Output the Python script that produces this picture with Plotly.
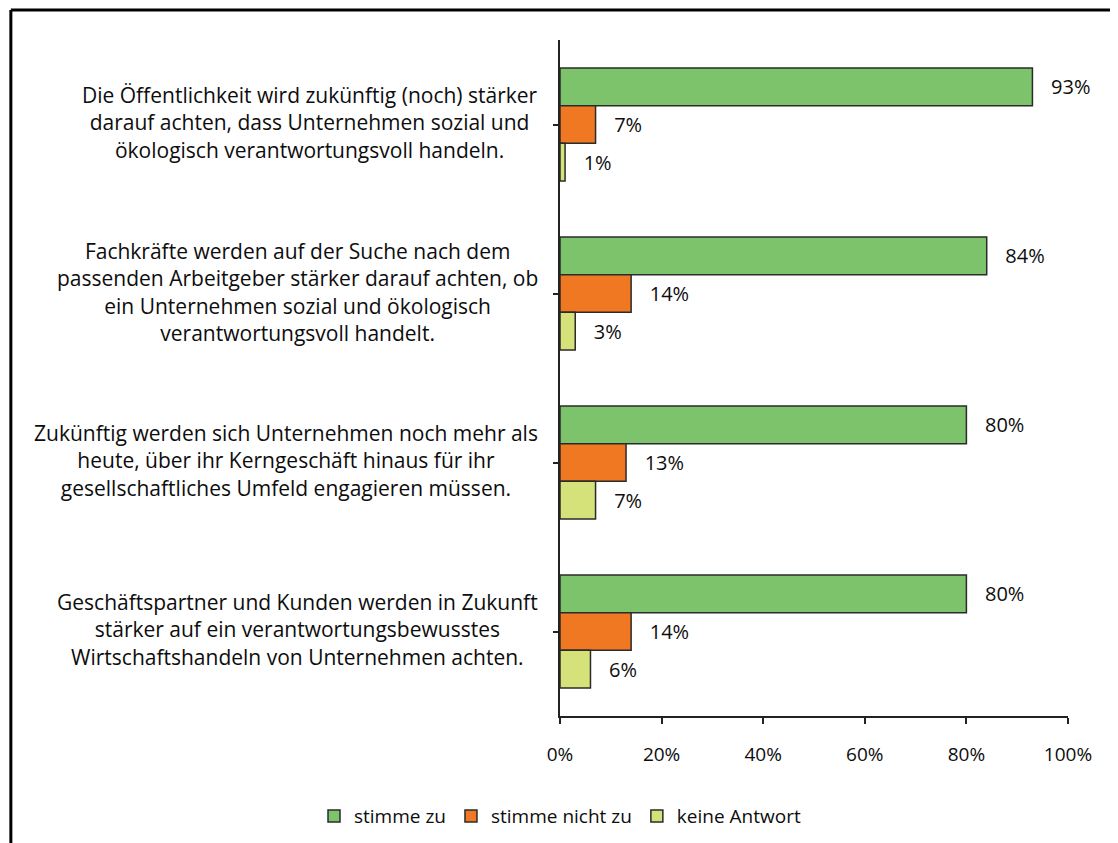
import plotly.graph_objects as go

categories = [
    "Die Öffentlichkeit wird zukünftig (noch) stärker<br>darauf achten, dass Unternehmen sozial und<br>ökologisch verantwortungsvoll handeln.",
    "Fachkräfte werden auf der Suche nach dem<br>passenden Arbeitgeber stärker darauf achten, ob<br>ein Unternehmen sozial und ökologisch<br>verantwortungsvoll handelt.",
    "Zukünftig werden sich Unternehmen noch mehr als<br>heute, über ihr Kerngeschäft hinaus für ihr<br>gesellschaftliches Umfeld engagieren müssen.",
    "Geschäftspartner und Kunden werden in Zukunft<br>stärker auf ein verantwortungsbewusstes<br>Wirtschaftshandeln von Unternehmen achten.",
]
series_names = ["stimme zu", "stimme nicht zu", "keine Antwort"]
stimme_zu = [93, 84, 80, 80]
stimme_nicht_zu = [7, 14, 13, 14]
keine_antwort = [1, 3, 7, 6]
x_ticks = [0, 20, 40, 60, 80, 100]
x_tick_labels = ["0%", "20%", "40%", "60%", "80%", "100%"]

colors = ["#7dc36b", "#f07823", "#d5e27a"]
FONT = "Open Sans"
TXT = "#0d0d0d"

fig = go.Figure()
for name, vals, col in zip(series_names, [stimme_zu, stimme_nicht_zu, keine_antwort], colors):
    fig.add_trace(go.Bar(
        y=categories, x=vals, name=name, orientation="h",
        marker=dict(color=col, line=dict(color="#2b2b2b", width=1.5)),
        text=["   " + str(v) + "%" for v in vals], texttemplate="%{text}",
        textposition="outside",
        textfont=dict(size=20, color=TXT, family=FONT),
        cliponaxis=False,
    ))

# category labels: text block right-anchored near the axis, lines centred within block
for cat in categories:
    fig.add_annotation(
        x=-0.04, xref="paper", y=cat, yref="y",
        text=cat, showarrow=False, xanchor="right", yanchor="middle", align="center",
        yshift=2,
        font=dict(size=21, color=TXT, family=FONT),
    )

# outer frame (top and left lines)
fig.add_shape(type="line", xref="paper", yref="paper", x0=-1.081, x1=1.12, y0=1.0444, y1=1.0444,
              line=dict(color="black", width=3))
fig.add_shape(type="line", xref="paper", yref="paper", x0=-1.081, x1=-1.081, y0=1.0444, y1=-0.2,
              line=dict(color="black", width=3))

fig.update_layout(
    width=1118, height=843,
    margin=dict(l=552, r=58, t=32, b=135),
    paper_bgcolor="white", plot_bgcolor="white",
    barmode="group", bargap=0.33, bargroupgap=0,
    font=dict(family=FONT, color=TXT),
    showlegend=True,
    legend=dict(orientation="h", x=0.0, xanchor="center", y=-0.12, yanchor="top",
                font=dict(size=19, family=FONT), itemwidth=30),
)
fig.update_xaxes(
    range=[0, 100], tickvals=x_ticks, ticktext=x_tick_labels,
    showgrid=False, zeroline=False, showline=True, linecolor="#222", linewidth=1.5,
    ticks="outside", ticklen=6, tickcolor="#222", tickwidth=1.5,
    ticklabelstandoff=14,
    tickfont=dict(size=19, family=FONT, color=TXT),
)
fig.update_yaxes(
    autorange="reversed", showticklabels=False, showgrid=False, zeroline=False,
    showline=True, linecolor="#222", linewidth=1.5,
    ticks="outside", ticklen=5, tickcolor="#222", tickwidth=1.5,
)
fig.write_html("out.html")
